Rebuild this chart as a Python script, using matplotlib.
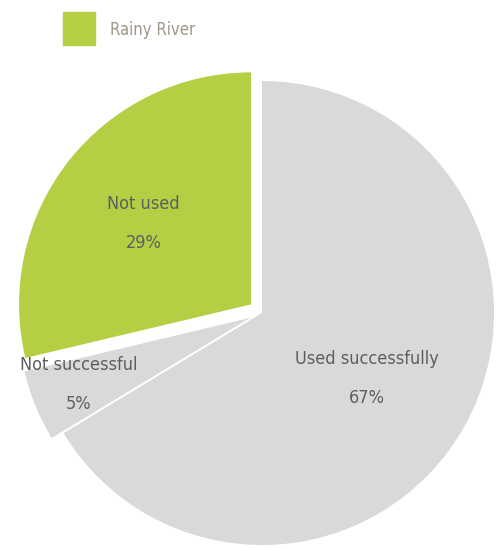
import matplotlib.pyplot as plt
from matplotlib.patches import Rectangle
import numpy as np

labels = ['Not used', 'Not successful', 'Used successfully']
shares = [29, 5, 67]
colors = ['#b5cf45', '#d9d9d9', '#d9d9d9']
explode = [0.06, 0.055, 0.0]
series_name = 'Rainy River'

TXT = '#5d5e60'
prop = dict(family=['DejaVu Sans'], stretch='condensed')

fig = plt.figure(figsize=(5.01, 5.48), dpi=100)
ax = fig.add_axes([0, 0, 1, 1])
ax.axis('off')

wedges, _ = ax.pie(shares, colors=colors, explode=explode, startangle=90,
                   counterclock=True, radius=1.0,
                   wedgeprops=dict(linewidth=0))

# label radius per slice (fraction of pie radius) and a small vertical nudge in points
label_r = [0.59, 0.80, 0.52]
nudge = [-3, 2.5, -4.5]
for w, lab, s, r, dy in zip(wedges, labels, shares, label_r, nudge):
    mid = np.deg2rad((w.theta1 + w.theta2) / 2)
    cx, cy = w.center
    x = cx + r * np.cos(mid)
    y = cy + r * np.sin(mid)
    ax.annotate(lab, (x, y), xytext=(0, 14 + dy), textcoords='offset points',
                ha='center', va='center', color=TXT, fontsize=13, **prop)
    ax.annotate(f'{s}%', (x, y), xytext=(0, -14 + dy), textcoords='offset points',
                ha='center', va='center', color=TXT, fontsize=13, **prop)

# pixel scale: 232 px per unit, centre at (262, 313) from top-left
ax.set_xlim(-262 / 232, (501 - 262) / 232)
ax.set_ylim(-(548 - 313) / 232, 313 / 232)
ax.set_aspect('auto')

# legend
fig.patches.append(Rectangle((63 / 501, 1 - 45 / 548), 32 / 501, 33 / 548,
                             transform=fig.transFigure, color=colors[0]))
fig.text(110 / 501, 1 - 30 / 548, series_name, ha='left', va='center',
         color='#9e9886', fontsize=12, **prop)

fig.savefig('out.png', dpi=100)
